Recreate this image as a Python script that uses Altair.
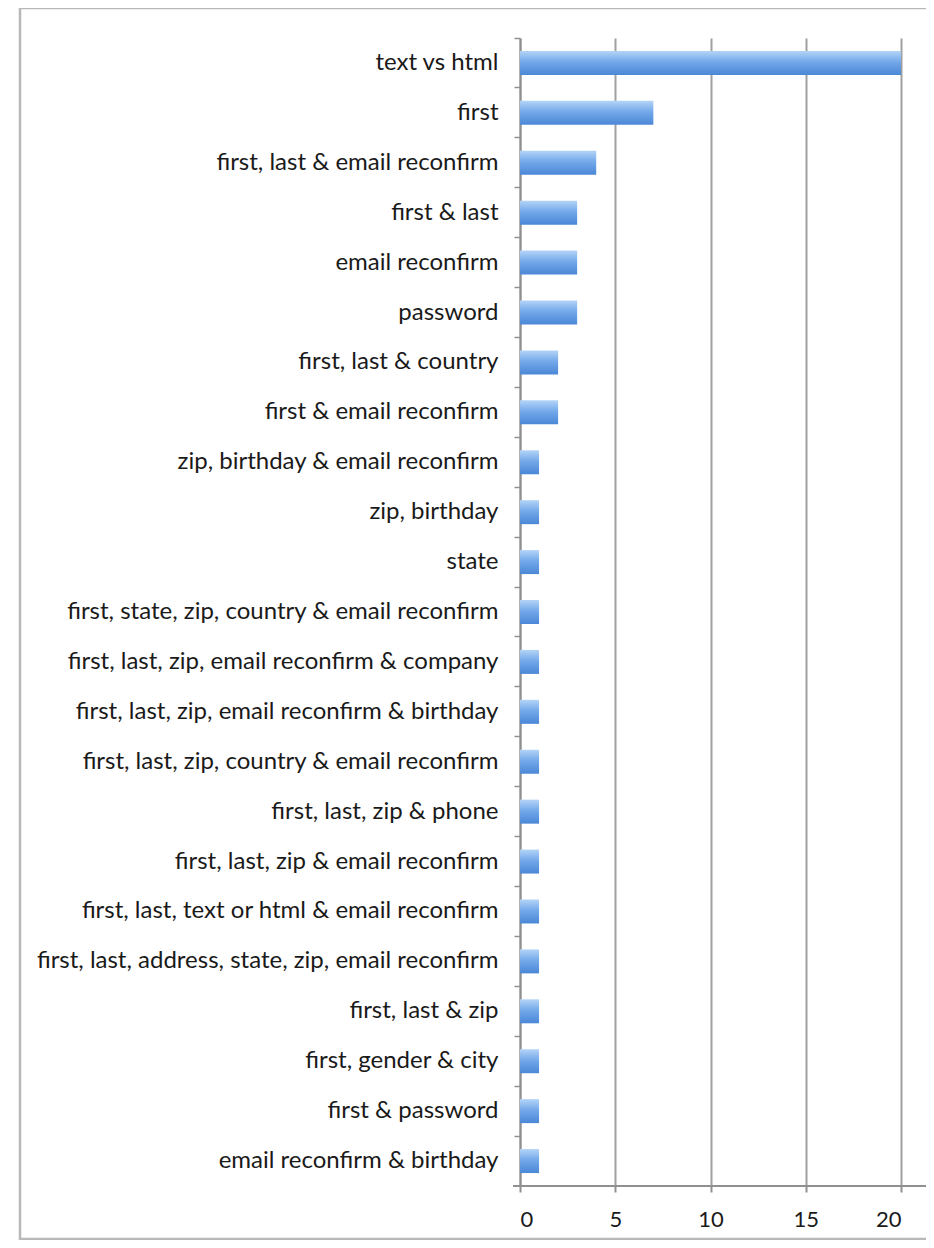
import altair as alt
import pandas as pd

categories = [
    "text vs html",
    "first",
    "first, last & email reconfirm",
    "first & last",
    "email reconfirm",
    "password",
    "first, last & country",
    "first & email reconfirm",
    "zip, birthday & email reconfirm",
    "zip, birthday",
    "state",
    "first, state, zip, country & email reconfirm",
    "first, last, zip, email reconfirm & company",
    "first, last, zip, email reconfirm & birthday",
    "first, last, zip, country & email reconfirm",
    "first, last, zip & phone",
    "first, last, zip & email reconfirm",
    "first, last, text or html & email reconfirm",
    "first, last, address, state, zip, email reconfirm",
    "first, last & zip",
    "first, gender & city",
    "first & password",
    "email reconfirm & birthday",
]
values = [20, 7, 4, 3, 3, 3, 2, 2, 1, 1, 1, 1, 1, 1, 1, 1, 1, 1, 1, 1, 1, 1, 1]
x_ticks = [0, 5, 10, 15, 20]

df = pd.DataFrame({"category": categories, "value": values})

FONT = "Lato"
W, H = 381, 1148

gradient = alt.Gradient(
    gradient="linear",
    stops=[
        alt.GradientStop(color="#b4d4f7", offset=0),
        alt.GradientStop(color="#74a9ea", offset=0.45),
        alt.GradientStop(color="#4a87d6", offset=1),
    ],
    x1=0, x2=0, y1=0, y2=1,
)

bars = alt.Chart(df).mark_bar(size=24, color=gradient).encode(
    x=alt.X(
        "value:Q",
        scale=alt.Scale(domain=[0, 20], nice=False),
        axis=alt.Axis(
            values=x_ticks,
            title=None,
            grid=True,
            gridColor="#a0a0a0",
            gridWidth=2,
            domain=False,
            tickColor="#909090",
            tickSize=6,
            tickWidth=2,
            labelFont=FONT,
            labelFontSize=22,
            labelColor="#1a1a1a",
            labelPadding=17,
        ),
    ),
    y=alt.Y(
        "category:N",
        sort=categories,
        scale=alt.Scale(paddingInner=0, paddingOuter=0),
        axis=alt.Axis(
            title=None,
            bandPosition=0,
            domainColor="#909090",
            domainWidth=2,
            tickColor="#909090",
            tickSize=6,
            tickWidth=1.5,
            labelFont=FONT,
            labelFontSize=24,
            labelColor="#1a1a1a",
            labelPadding=16,
            labelLimit=0,
        ),
    ),
)

baseline = alt.Chart(pd.DataFrame({"k": [0]})).mark_rule(
    color="#909090", strokeWidth=2
).encode(
    x=alt.value(-7),
    x2=alt.value(414),
    y=alt.value(H),
)

frame = alt.Chart(pd.DataFrame({"k": [0]})).mark_rect(
    fill="transparent", stroke="#b8b8b8", strokeWidth=2.5
).encode(
    x=alt.value(-500),
    x2=alt.value(414),
    y=alt.value(-30),
    y2=alt.value(1201),
)

chart = (
    alt.layer(frame, bars, baseline)
    .properties(
        width=W,
        height=H,
        padding={"left": 512, "top": 30, "right": 25, "bottom": 54},
        autosize=alt.AutoSizeParams(type="none"),
        background="white",
    )
    .configure_view(stroke=None)
)

chart.save("out.html", embed_options={"renderer": "svg", "actions": False})
